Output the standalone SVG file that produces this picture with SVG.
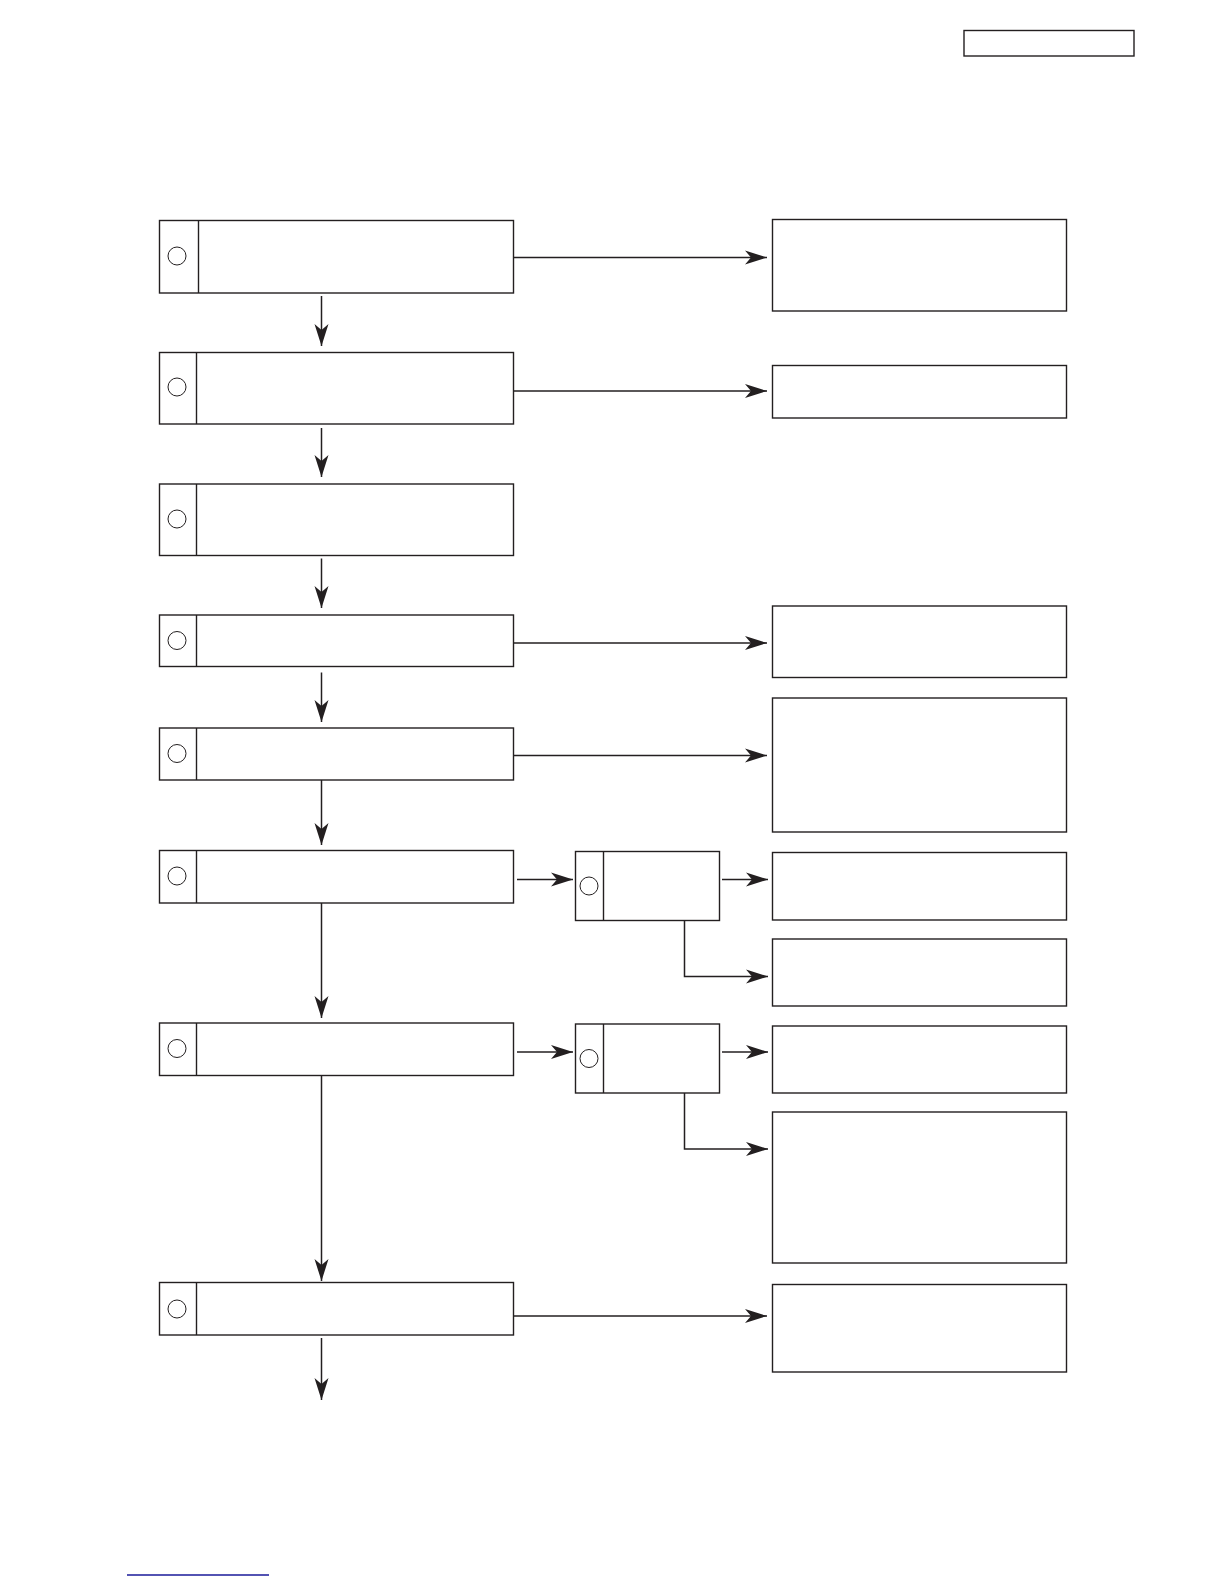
<svg xmlns="http://www.w3.org/2000/svg" width="1224" height="1584" viewBox="0 0 1224 1584">
<style>
.b{fill:#fff;stroke:#231f20;stroke-width:1.4}
.d{stroke:#231f20;stroke-width:1.4;fill:none}
.c{fill:none;stroke:#231f20;stroke-width:1}
.a{stroke:#231f20;stroke-width:1.5;fill:none;marker-end:url(#ah)}
</style>
<defs>
<marker id="ah" markerUnits="userSpaceOnUse" markerWidth="24" markerHeight="16" refX="22" refY="7" orient="auto" overflow="visible">
<path d="M0,0 L22,7 L0,14 L6,7 Z" fill="#231f20"/>
</marker>
</defs>
<rect width="1224" height="1584" fill="#fff"/>
<g id="label"><rect class="b" x="964" y="30.5" width="170" height="25.5"/></g>
<g id="n1"><rect class="b" x="159.5" y="220.5" width="354" height="72.5"/><line class="d" x1="198.5" y1="220.5" x2="198.5" y2="293"/><circle class="c" cx="177" cy="256" r="9"/></g>
<g id="n2"><rect class="b" x="159.5" y="352.5" width="354" height="71.5"/><line class="d" x1="196.5" y1="352.5" x2="196.5" y2="424"/><circle class="c" cx="177" cy="387" r="9"/></g>
<g id="n3"><rect class="b" x="159.5" y="484" width="354" height="71.5"/><line class="d" x1="196.5" y1="484" x2="196.5" y2="555.5"/><circle class="c" cx="177" cy="519" r="9"/></g>
<g id="n4"><rect class="b" x="159.5" y="615" width="354" height="51.5"/><line class="d" x1="196.5" y1="615" x2="196.5" y2="666.5"/><circle class="c" cx="177" cy="640.5" r="9"/></g>
<g id="n5"><rect class="b" x="159.5" y="728" width="354" height="52"/><line class="d" x1="196.5" y1="728" x2="196.5" y2="780"/><circle class="c" cx="177" cy="753.5" r="9"/></g>
<g id="n6"><rect class="b" x="159.5" y="850.5" width="354" height="52.5"/><line class="d" x1="196.5" y1="850.5" x2="196.5" y2="903"/><circle class="c" cx="177" cy="876" r="9"/></g>
<g id="n7"><rect class="b" x="159.5" y="1023" width="354" height="52.5"/><line class="d" x1="196.5" y1="1023" x2="196.5" y2="1075.5"/><circle class="c" cx="177" cy="1048.5" r="9"/></g>
<g id="n8"><rect class="b" x="159.5" y="1282.5" width="354" height="52.5"/><line class="d" x1="196.5" y1="1282.5" x2="196.5" y2="1335"/><circle class="c" cx="177" cy="1309" r="9"/></g>
<g id="s6"><rect class="b" x="575.5" y="851.5" width="144" height="69"/><line class="d" x1="603.5" y1="851.5" x2="603.5" y2="920.5"/><circle class="c" cx="589" cy="886" r="9"/></g>
<g id="s7"><rect class="b" x="575.5" y="1024" width="144" height="69"/><line class="d" x1="603.5" y1="1024" x2="603.5" y2="1093"/><circle class="c" cx="589" cy="1058.5" r="9"/></g>
<g id="r1"><rect class="b" x="772.5" y="219.5" width="294" height="91.5"/></g>
<g id="r2"><rect class="b" x="772.5" y="365.5" width="294" height="52.5"/></g>
<g id="r4"><rect class="b" x="772.5" y="606" width="294" height="71.5"/></g>
<g id="r5"><rect class="b" x="772.5" y="698" width="294" height="134"/></g>
<g id="r6a"><rect class="b" x="772.5" y="852.5" width="294" height="67.5"/></g>
<g id="r6b"><rect class="b" x="772.5" y="939" width="294" height="67"/></g>
<g id="r7a"><rect class="b" x="772.5" y="1026" width="294" height="67"/></g>
<g id="r7b"><rect class="b" x="772.5" y="1112" width="294" height="151"/></g>
<g id="r8"><rect class="b" x="772.5" y="1284.5" width="294" height="87.5"/></g>
<g id="connectors">
<path class="a" d="M514,257.5 H767"/>
<path class="a" d="M514,391 H767"/>
<path class="a" d="M514,643 H767"/>
<path class="a" d="M514,755.5 H767"/>
<path class="a" d="M514,1316 H767"/>
<path class="a" d="M517,879.5 H573"/>
<path class="a" d="M517,1052 H573"/>
<path class="a" d="M722,879.5 H768"/>
<path class="a" d="M722,1052 H768"/>
<path class="a" d="M684.5,920.5 V976.5 H768"/>
<path class="a" d="M684.5,1093 V1149 H768"/>
<path class="a" d="M321.5,296 V346"/>
<path class="a" d="M321.5,428 V477"/>
<path class="a" d="M321.5,558.5 V608"/>
<path class="a" d="M321.5,672.5 V722"/>
<path class="a" d="M321.5,780 V845"/>
<path class="a" d="M321.5,903 V1018"/>
<path class="a" d="M321.5,1075.5 V1281"/>
<path class="a" d="M321.5,1338 V1400"/>
</g>
<line x1="127" y1="1575" x2="269" y2="1575" stroke="#1a1a9a" stroke-width="1.5"/>
</svg>
